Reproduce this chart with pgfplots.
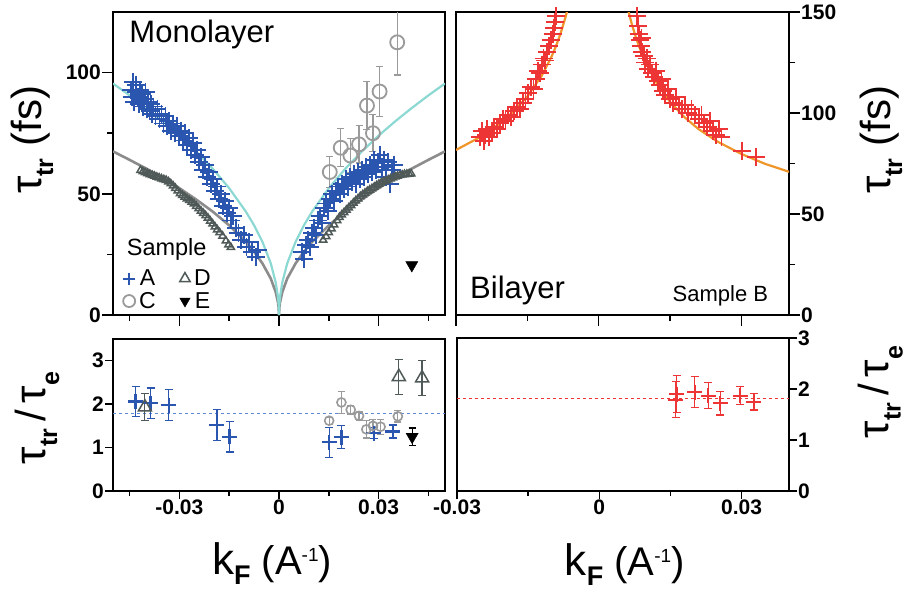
\documentclass[border=0pt]{standalone}
\usepackage{fontspec}
\setmainfont{Liberation Sans}
\usepackage{pgfplots}
\pgfplotsset{compat=1.18}

\definecolor{blueA}{HTML}{2A56B0}
\definecolor{cyanfit}{HTML}{8CD8D2}
\definecolor{grayfit}{HTML}{8C8C8C}
\definecolor{grayC}{HTML}{9A9A9A}
\definecolor{slateD}{HTML}{4F5A58}
\definecolor{redB}{HTML}{EE3535}
\definecolor{orangefit}{HTML}{F0952A}
\definecolor{bluedash}{HTML}{5F88D8}

\newcommand{\tautr}{\fontsize{44}{44}\selectfont τ\raisebox{-12pt}{\fontsize{25}{25}\selectfont\bfseries tr}}
\newcommand{\labfs}{{\tautr\fontsize{42}{42}\selectfont\ (fs)}}
\newcommand{\labratio}{{\tautr\fontsize{42}{42}\selectfont\,/\,\fontsize{44}{44}\selectfont τ\raisebox{-14pt}{\fontsize{25}{25}\selectfont\bfseries e}}}
\newcommand{\labk}{{\fontsize{44}{44}\selectfont k\raisebox{-10pt}{\fontsize{27}{27}\selectfont\bfseries F}\fontsize{40}{40}\selectfont\ (A\raisebox{13pt}{\fontsize{19}{19}\selectfont -1})}}

\pgfplotsset{
  panel/.style={
    scale only axis, anchor=south west,
    axis line style={line width=1.5pt},
    tick align=outside,
    every tick/.style={black,line width=1.5pt},
    major tick length=11pt, minor tick length=6pt,
    tick label style={font=\fontsize{21}{21}\selectfont\bfseries, inner sep=1pt},
    /pgf/number format/assume math mode=true,
    scaled x ticks=false, scaled y ticks=false,
  },
  pts/.style={only marks, mark options={solid},
    legend image code/.code={\draw[##1, mark size=6pt] plot coordinates {(0pt,0pt)};}},
  ebars/.style={error bars/.cd, y dir=both, y explicit,
    error bar style={line width=1.2pt},
    error mark options={rotate=90, mark size=#1, line width=1.2pt}},
}

\begin{document}
\begin{tikzpicture}
\useasboundingbox (0,0) rectangle (909pt,-592pt);

% ---------- monolayer, tau_tr ----------
\begin{axis}[panel, at={(113pt,-315pt)}, width=332pt, height=303pt,
  xmin=-0.05, xmax=0.05, ymin=0, ymax=125,
  xtick={-0.03,0,0.03}, minor xtick={-0.045,-0.015,0.015,0.045}, xticklabels={,,},
  ytick={0,50,100}, minor ytick={25,75},
  xtick pos=left, ytick pos=left,
  ylabel={\labfs}, ylabel style={at={(axis description cs:-0.244,0.578)}, anchor=center},
  legend columns=2, transpose legend,
  legend style={draw=none, fill=none, at={(axis cs:-0.0470,19.5)}, anchor=north west,
    font=\fontsize{23}{23}\selectfont, inner sep=0pt, row sep=1pt,
    /tikz/every odd column/.style={column sep=2pt},
    /tikz/every even column/.style={column sep=22pt}},
]
\addplot[grayfit, line width=2.6pt, forget plot] coordinates {
(-0.05,67.5) (-0.045,64.0) (-0.04,60.4) (-0.035,56.5) (-0.03,52.3) (-0.025,47.7) (-0.02,42.7)
(-0.015,37.0) (-0.01,30.2) (-0.0075,26.1) (-0.005,21.3) (-0.0025,15.1) (-0.001,9.5) (-0.0003,5.2) (-0.0001,3.0) (0,0)
(0.0001,3.0) (0.0003,5.2) (0.001,9.5) (0.0025,15.1) (0.005,21.3) (0.0075,26.1) (0.01,30.2) (0.015,37.0)
(0.02,42.7) (0.025,47.7) (0.03,52.3) (0.035,56.5) (0.04,60.4) (0.045,64.0) (0.05,67.5)};
\addplot[cyanfit, line width=2.2pt, forget plot] coordinates {
(-0.05,95.5) (-0.045,90.6) (-0.04,85.4) (-0.035,79.9) (-0.03,74.0) (-0.025,67.5) (-0.02,60.4)
(-0.015,52.3) (-0.01,42.7) (-0.0075,37.0) (-0.005,30.2) (-0.0025,21.4) (-0.001,13.5) (-0.0003,7.4) (-0.0001,4.3) (0,0)
(0.0001,4.3) (0.0003,7.4) (0.001,13.5) (0.0025,21.4) (0.005,30.2) (0.0075,37.0) (0.01,42.7) (0.015,52.3)
(0.02,60.4) (0.025,67.5) (0.03,74.0) (0.035,79.9) (0.04,85.4) (0.045,90.6) (0.05,95.5)};
% sample A
\addplot[pts, blueA, mark=+, mark size=9pt, line width=1.9pt] coordinates {
(-0.0447,93) (-0.0443,90) (-0.0440,96) (-0.0436,88) (-0.0432,92) (-0.0430,95) (-0.0426,90) (-0.0423,87)
(-0.0420,93) (-0.0417,89) (-0.0413,91) (-0.0410,86) (-0.0406,89) (-0.0402,92) (-0.0398,85) (-0.0394,88)
(-0.0390,84) (-0.0386,87) (-0.0382,83) (-0.0378,86) (-0.0372,82) (-0.0366,85) (-0.0360,81) (-0.0354,83)
(-0.0348,79) (-0.0342,82) (-0.0336,78) (-0.0330,80) (-0.0324,76) (-0.0318,79) (-0.0312,75) (-0.0306,78)
(-0.0300,74) (-0.0294,76) (-0.0288,72) (-0.0282,75) (-0.0276,70) (-0.0270,73) (-0.0264,68) (-0.0258,71)
(-0.0252,66) (-0.0246,68) (-0.0240,63) (-0.0234,65) (-0.0228,60) (-0.0222,62) (-0.0216,57) (-0.0210,59)
(-0.0204,54) (-0.0198,56) (-0.0192,51) (-0.0186,53) (-0.0180,48) (-0.0174,50) (-0.0168,45) (-0.0162,47)
(-0.0156,42) (-0.0150,44) (-0.0144,39) (-0.0138,41) (-0.0130,36) (-0.0122,34) (-0.0114,31) (-0.0106,33)
(-0.0098,28) (-0.0090,30) (-0.0080,26) (-0.0070,24) (-0.0062,27)
(0.0070,26) (0.0076,23) (0.0082,29) (0.0088,31) (0.0094,28) (0.0100,34) (0.0106,36) (0.0112,33)
(0.0118,39) (0.0124,41) (0.0130,38) (0.0136,44) (0.0142,46) (0.0148,43) (0.0154,48) (0.0160,50)
(0.0166,47) (0.0172,51) (0.0178,53) (0.0184,50) (0.0190,54) (0.0196,52) (0.0202,56) (0.0208,53)
(0.0214,57) (0.0220,55) (0.0226,58) (0.0232,54) (0.0238,59) (0.0244,56) (0.0250,60) (0.0256,57)
(0.0262,61) (0.0268,58) (0.0274,62) (0.0280,59) (0.0286,64) (0.0292,60) (0.0298,63) (0.0304,66)
(0.0310,61) (0.0316,64) (0.0322,57) (0.0328,63) (0.0334,54) (0.0340,60) (0.0346,62)};
\addlegendentry{A}
% sample C
\addplot[pts, grayC, mark=o, mark size=7pt, line width=1.8pt, ebars=3.5pt] coordinates {
(0.0153,59.0) +- (0,6.5) (0.0186,69.0) +- (0,7.9) (0.0215,65.8) +- (0,7.0) (0.0241,70.4) +- (0,7.7)
(0.0265,86.4) +- (0,9.8) (0.0283,75.0) +- (0,7.7) (0.0303,92.2) +- (0,10.3) (0.0356,112.5) +- (0,13.5)};
\addlegendentry{C}
% sample D
\addplot[pts, slateD, mark=triangle, mark size=4.2pt, line width=1.5pt] coordinates {
(-0.0417,59.7) (-0.0410,59.2) (-0.0403,58.8) (-0.0396,58.4) (-0.0389,58.0) (-0.0382,57.6) (-0.0375,57.3)
(-0.0368,56.9) (-0.0361,56.6) (-0.0354,56.2) (-0.0347,55.9) (-0.0340,55.6) (-0.0333,55.0) (-0.0326,54.2)
(-0.0319,53.3) (-0.0312,52.3) (-0.0305,51.2) (-0.0298,50.1) (-0.0291,49.4) (-0.0284,48.7) (-0.0277,48.0)
(-0.0270,47.3) (-0.0263,46.6) (-0.0256,45.9) (-0.0249,44.9) (-0.0242,43.9) (-0.0235,42.9) (-0.0228,42.0)
(-0.0221,41.0) (-0.0214,40.0) (-0.0207,38.8) (-0.0200,37.6) (-0.0193,36.4) (-0.0186,35.2) (-0.0179,34.0)
(-0.0170,32.6) (-0.0160,30.6) (-0.0152,29.0) (-0.0145,27.9)
(0.0133,30.9) (0.0142,32.4) (0.0150,34.0) (0.0158,35.6) (0.0166,37.2) (0.0175,39.0) (0.0182,40.3)
(0.0189,41.3) (0.0196,42.3) (0.0203,43.3) (0.0210,44.2) (0.0217,45.2) (0.0224,46.2) (0.0231,47.1)
(0.0238,48.0) (0.0245,48.9) (0.0252,49.6) (0.0259,50.3) (0.0266,51.0) (0.0273,51.6) (0.0280,52.2)
(0.0287,52.8) (0.0294,53.4) (0.0301,54.0) (0.0308,54.5) (0.0315,55.0) (0.0322,55.4) (0.0329,55.8)
(0.0336,56.2) (0.0343,56.6) (0.0350,57.0) (0.0357,57.3) (0.0364,57.6) (0.0371,57.8) (0.0378,58.0)
(0.0385,58.1) (0.0392,58.2) (0.0398,58.3)};
\addlegendentry{D}
% sample E
\addplot[pts, black, mark=triangle*, mark size=7pt, mark options={rotate=180}] coordinates {(0.0400,20.6)};
\addlegendentry{E}
\node[anchor=base west, font=\fontsize{31}{31}\selectfont] at (rel axis cs:0.039,0.901) {Monolayer};
\node[anchor=base west, font=\fontsize{23.5}{23.5}\selectfont] at (rel axis cs:0.031,0.195) {Sample};
\end{axis}

% ---------- bilayer, tau_tr ----------
\begin{axis}[panel, at={(456pt,-315pt)}, width=333pt, height=303pt,
  xmin=-0.03, xmax=0.04, ymin=0, ymax=150,
  xtick={-0.03,0,0.03}, minor xtick={-0.015,0.015}, xticklabels={,,},
  ytick={0,50,100,150}, minor ytick={25,75,125},
  xtick pos=left, ytick pos=right, yticklabel pos=right,
  ylabel={\labfs}, ylabel style={at={(axis description cs:1.276,0.578)}, anchor=center},
]
\addplot[orangefit, line width=2.2pt] coordinates {
(-0.03,81.7) (-0.025,88.0) (-0.021,94.4) (-0.018,100.5) (-0.015,108.2) (-0.012,118.4)
(-0.01,127.5) (-0.009,133.0) (-0.008,139.5) (-0.007,147.3) (-0.0065,151.8)};
\addplot[orangefit, line width=2.2pt] coordinates {
(0.0062,150.9) (0.007,143.6) (0.008,136.1) (0.009,129.7) (0.01,124.3) (0.012,115.5) (0.015,105.5)
(0.018,98.0) (0.021,92.0) (0.025,85.8) (0.03,79.7) (0.035,74.8) (0.04,70.9)};
\addplot[pts, redB, mark=+, mark size=9pt, line width=1.9pt] coordinates {
(-0.0250,88) (-0.0246,91) (-0.0242,86) (-0.0238,89) (-0.0234,92) (-0.0230,88) (-0.0225,90) (-0.0220,93)
(-0.0214,92) (-0.0208,95) (-0.0202,97) (-0.0196,96) (-0.0190,99) (-0.0184,98) (-0.0178,101) (-0.0172,103)
(-0.0166,102) (-0.0160,105) (-0.0154,107) (-0.0148,110) (-0.0142,113) (-0.0137,112) (-0.0132,117)
(-0.0128,121) (-0.0124,120) (-0.0120,124) (-0.0116,127) (-0.0112,126) (-0.0108,130) (-0.0104,133)
(-0.0100,136) (-0.0097,139) (-0.0094,142) (-0.0092,145) (-0.0090,148)
(0.0080,148) (0.0082,143) (0.0084,139) (0.0086,136) (0.0088,133) (0.0090,137) (0.0092,130) (0.0095,128)
(0.0098,125) (0.0101,127) (0.0104,122) (0.0108,124) (0.0112,120) (0.0116,118) (0.0120,121) (0.0124,116)
(0.0128,114) (0.0132,117) (0.0136,111) (0.0140,109) (0.0145,112) (0.0150,107) (0.0156,105) (0.0162,108)
(0.0168,104) (0.0175,102) (0.0182,104) (0.0188,100) (0.0195,102) (0.0202,99) (0.0210,97) (0.0216,99)
(0.0222,95) (0.0228,93) (0.0234,96) (0.0240,91) (0.0246,89) (0.0252,92) (0.0258,88) (0.0302,81) (0.0330,78)};
\node[anchor=base west, font=\fontsize{31}{31}\selectfont] at (rel axis cs:0.032,0.055) {Bilayer};
\node[anchor=base west, font=\fontsize{22}{22}\selectfont] at (rel axis cs:0.64,0.046) {Sample B};
\end{axis}

% ---------- monolayer, ratio ----------
\begin{axis}[panel, at={(113pt,-491pt)}, width=332pt, height=152pt,
  xmin=-0.05, xmax=0.05, ymin=0, ymax=3.5,
  xtick={-0.03,0,0.03}, minor xtick={-0.045,-0.015,0.015,0.045}, xticklabels={-0.03,0,0.03},
  ytick={0,1,2,3}, xtick pos=left, ytick pos=left,
  major tick length=8pt, minor tick length=5pt,
  ylabel={\labratio}, ylabel style={at={(axis description cs:-0.229,0.48)}, anchor=center},
  xlabel={\labk}, xlabel style={at={(axis description cs:0.479,-0.55)}, anchor=base},
]
\addplot[bluedash, dashed, line width=1pt] coordinates {(-0.05,1.79) (0.05,1.79)};
\addplot[pts, blueA, mark=+, mark size=7.5pt, line width=2.2pt, ebars=4pt] coordinates {
(-0.0432,2.06) +- (0,0.35) (-0.0387,2.02) +- (0,0.35) (-0.0332,1.98) +- (0,0.35)
(-0.0187,1.52) +- (0,0.35) (-0.0149,1.25) +- (0,0.35) (0.0151,1.12) +- (0,0.35)
(0.0188,1.24) +- (0,0.27) (0.0285,1.33) +- (0,0.13) (0.0343,1.37) +- (0,0.15)};
\addplot[pts, slateD, mark=triangle, mark size=7.5pt, line width=1.5pt, ebars=4pt] coordinates {
(-0.0404,1.93) +- (0,0.31) (0.0361,2.63) +- (0,0.40) (0.0431,2.60) +- (0,0.40)};
\addplot[pts, grayC, mark=o, mark size=4.5pt, line width=1.6pt, ebars=3.5pt] coordinates {
(0.0151,1.62) +- (0,0.08) (0.0188,2.04) +- (0,0.25) (0.0216,1.87) +- (0,0.10) (0.0241,1.73) +- (0,0.10)
(0.0263,1.42) +- (0,0.20) (0.0283,1.50) +- (0,0.15) (0.0306,1.48) +- (0,0.17) (0.0358,1.72) +- (0,0.13)};
\addplot[pts, black, mark=triangle*, mark size=7pt, mark options={rotate=180}, ebars=3.5pt] coordinates {
(0.0401,1.25) +- (0,0.20)};
\end{axis}

% ---------- bilayer, ratio ----------
\begin{axis}[panel, at={(457pt,-491pt)}, width=332pt, height=153pt,
  xmin=-0.03, xmax=0.04, ymin=0, ymax=3,
  xtick={-0.03,0,0.03}, minor xtick={-0.015,0.015}, xticklabels={-0.03,0,0.03},
  ytick={0,1,2,3}, xtick pos=left, ytick pos=right, yticklabel pos=right,
  major tick length=8pt, minor tick length=5pt,
  ylabel={\labratio}, ylabel style={at={(axis description cs:1.276,0.647)}, anchor=center},
  xlabel={\labk}, xlabel style={at={(axis description cs:0.505,-0.55)}, anchor=base},
]
\addplot[redB, dashed, line width=1pt] coordinates {(-0.03,1.82) (0.04,1.82)};
\addplot[pts, redB, mark=+, mark size=7.5pt, line width=2.2pt, ebars=4pt] coordinates {
(0.0163,1.90) +- (0,0.36) (0.0161,1.79) +- (0,0.35) (0.0201,1.94) +- (0,0.31) (0.0230,1.87) +- (0,0.25)
(0.0255,1.72) +- (0,0.23) (0.0297,1.87) +- (0,0.18) (0.0326,1.75) +- (0,0.16)};
\end{axis}
\end{tikzpicture}
\end{document}
